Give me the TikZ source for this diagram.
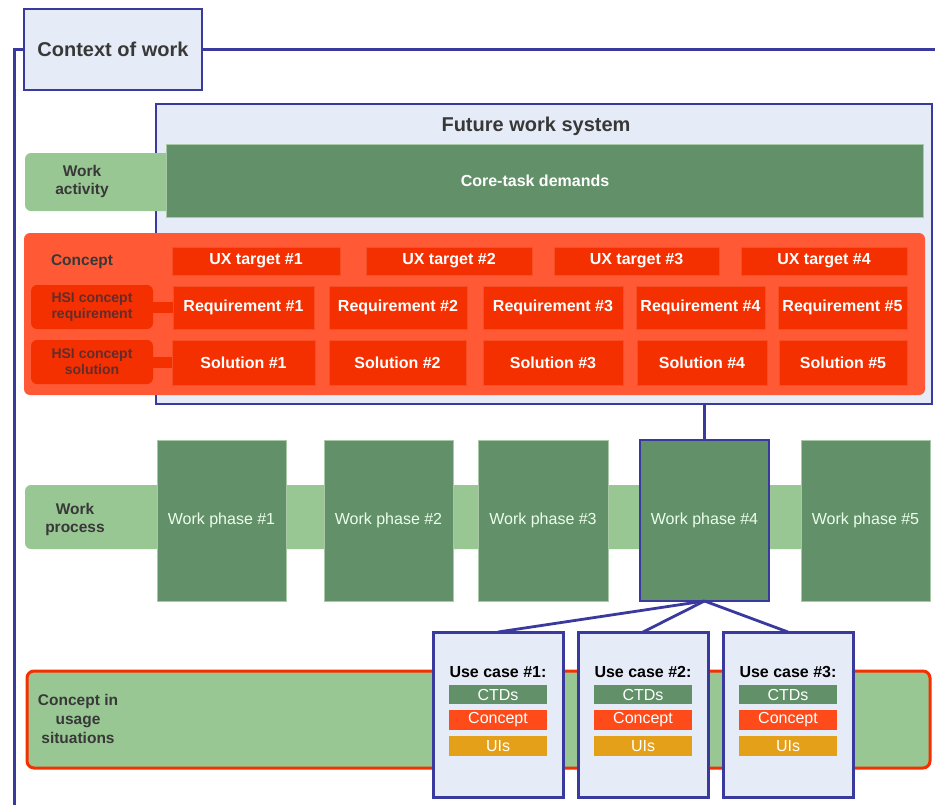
\documentclass[tikz,border=0pt]{standalone}
\usepackage{fontspec}
\setmainfont{Liberation Sans}
\definecolor{frameblue}{HTML}{3A3A9E}
\definecolor{paleblue}{HTML}{E6ECF7}
\definecolor{darkgreen}{HTML}{629069}
\definecolor{greenedge}{HTML}{A9C9A6}
\definecolor{lightgreen}{HTML}{99C793}
\definecolor{conceptorange}{HTML}{FF5A35}
\definecolor{redbox}{HTML}{F53000}
\definecolor{ucconcept}{HTML}{FF4A1A}
\definecolor{uiorange}{HTML}{E5A01A}
\definecolor{darktext}{HTML}{383838}
\newcommand\bx[7]{\node[#1, minimum width={(#5-#3)*1pt}, minimum height={(#6-#4)*1pt}] (#2) at ({(#3+#5)/2},{(#4+#6)/2}) {#7};}
\begin{document}
\begin{tikzpicture}[x=1pt,y=-1pt,
  every node/.style={inner sep=0pt, outer sep=0pt},
  ctxbox/.style={fill=paleblue, draw=frameblue, line width=2pt, font=\bfseries\fontsize{20}{22}\selectfont, text=darktext},
  sysbox/.style={fill=paleblue, draw=frameblue, line width=1.5pt},
  greenbar/.style={fill=darkgreen, draw=greenedge, line width=0.6pt, text=white, font=\bfseries\fontsize{16}{18}\selectfont},
  phasebox/.style={fill=darkgreen, draw=greenedge, line width=0.6pt, text=white!92!green, font=\fontsize{16}{18}\selectfont},
  phasesel/.style={fill=darkgreen, draw=frameblue, line width=2.8pt, text=white!92!green, font=\fontsize{16}{18}\selectfont},
  labelband/.style={fill=lightgreen, rounded corners=6pt},
  lbltext/.style={text=darktext, font=\bfseries\fontsize{15.5}{18}\selectfont, align=center},
  orangebox/.style={fill=conceptorange, rounded corners=6pt},
  redcell/.style={fill=redbox, draw=redbox!85!white, line width=0.5pt, text=white, font=\bfseries\fontsize{16}{18}\selectfont},
  hsilabel/.style={fill=redbox, rounded corners=6pt, text=darktext!80!red, font=\bfseries\fontsize{14}{16}\selectfont, align=center},
  usagebox/.style={fill=lightgreen, draw=redbox, line width=3pt, rounded corners=7pt},
  ucbox/.style={fill=paleblue, draw=frameblue, line width=3pt},
  uctitle/.style={text=black, font=\bfseries\fontsize{16}{18}\selectfont},
  ucbar/.style={text=white, font=\fontsize{16}{18}\selectfont},
  conn/.style={draw=frameblue, line width=2.8pt}
]
\useasboundingbox (0,0) rectangle (935,804);

% context frame
\bx{ctxbox}{ctx}{24}{9}{202}{90}{Context of work}
\coordinate (frameR) at (935,49.5);
\coordinate (frameB) at (14,806);
\draw[conn, line width=3pt] (ctx.east) -- (frameR);
\draw[conn, line width=3pt] (ctx.west) -| (frameB);

% future work system
\bx{sysbox}{fws}{156}{104}{932}{404}{}
\node[font=\bfseries\fontsize{20}{22}\selectfont, text=darktext] (fwstitle) at (536,126) {Future work system};

% work activity
\bx{labelband}{walbl}{25}{153}{172}{211}{}
\node[lbltext] (watext) at (82,181) {Work\\activity};
\bx{greenbar}{ctd}{166}{144}{923}{217}{}
\node[text=white, font=\bfseries\fontsize{16}{18}\selectfont] (ctdtext) at (535,181) {Core-task demands};

% concept block
\bx{orangebox}{concept}{24}{233}{925}{395}{}
\node[lbltext, text=darktext] (concepttext) at (82,262) {Concept};
\bx{redcell}{ux1}{172}{247}{340}{275}{UX target \#1}
\bx{redcell}{ux2}{366}{247}{532}{275}{UX target \#2}
\bx{redcell}{ux3}{554}{247}{719}{275}{UX target \#3}
\bx{redcell}{ux4}{741}{247}{907}{275}{UX target \#4}

\bx{redcell}{r1}{173}{286}{314}{329}{Requirement \#1}
\bx{redcell}{r2}{329}{286}{467}{329}{Requirement \#2}
\bx{redcell}{r3}{483}{286}{623}{329}{Requirement \#3}
\bx{redcell}{r4}{636}{286}{765}{329}{Requirement \#4}
\bx{redcell}{r5}{778}{286}{907}{329}{Requirement \#5}

\bx{redcell}{s1}{172}{340}{315}{385}{Solution \#1}
\bx{redcell}{s2}{329}{340}{466}{385}{Solution \#2}
\bx{redcell}{s3}{483}{340}{623}{385}{Solution \#3}
\bx{redcell}{s4}{637}{340}{767}{385}{Solution \#4}
\bx{redcell}{s5}{779}{340}{907}{385}{Solution \#5}

\bx{hsilabel}{hsir}{31}{285}{153}{329}{HSI concept\\requirement}
\bx{hsilabel}{hsis}{31}{340}{153}{384}{HSI concept\\solution}
\fill[redbox] ([yshift=5pt]hsir.east) rectangle ([yshift=-5pt]r1.west);
\fill[redbox] ([yshift=5.5pt]hsis.east) rectangle ([yshift=-5.5pt]s1.west);

% work process
\bx{labelband}{wpband}{25}{485}{930}{549}{}
\node[lbltext] (wptext) at (75,519) {Work\\process};
\bx{phasebox}{p1}{157}{440}{286}{601}{Work phase \#1}
\bx{phasebox}{p2}{324}{440}{453}{601}{Work phase \#2}
\bx{phasebox}{p3}{478}{440}{608}{601}{Work phase \#3}
\bx{phasesel}{p4}{640}{440}{769}{601}{Work phase \#4}
\bx{phasebox}{p5}{801}{440}{930}{601}{Work phase \#5}

\draw[conn] (p4.north |- fws.south) -- (p4.north);

% usage situations
\bx{usagebox}{usage}{27}{671}{930}{768}{}
\node[lbltext, font=\bfseries\fontsize{15.5}{19}\selectfont] (usagetext) at (78,719) {Concept in\\usage\\situations};

\bx{ucbox}{uc1}{433}{632}{563}{797}{}
\bx{ucbox}{uc2}{578}{632}{708}{797}{}
\bx{ucbox}{uc3}{723}{632}{853}{797}{}

\draw[conn] (p4.south) -- (uc1.north);
\draw[conn] (p4.south) -- (uc2.north);
\draw[conn] (p4.south) -- (uc3.north);

\node[uctitle] (uc1t) at (498,672) {Use case \#1:};
\bx{ucbar, fill=darkgreen}{uc1a}{449}{685}{547}{704}{CTDs}
\bx{ucbar, fill=ucconcept}{uc1b}{449}{710}{547}{730}{Concept}
\bx{ucbar, fill=uiorange}{uc1c}{449}{736}{547}{756}{UIs}

\node[uctitle] (uc2t) at (643,672) {Use case \#2:};
\bx{ucbar, fill=darkgreen}{uc2a}{594}{685}{692}{704}{CTDs}
\bx{ucbar, fill=ucconcept}{uc2b}{594}{710}{692}{730}{Concept}
\bx{ucbar, fill=uiorange}{uc2c}{594}{736}{692}{756}{UIs}

\node[uctitle] (uc3t) at (788,672) {Use case \#3:};
\bx{ucbar, fill=darkgreen}{uc3a}{739}{685}{837}{704}{CTDs}
\bx{ucbar, fill=ucconcept}{uc3b}{739}{710}{837}{730}{Concept}
\bx{ucbar, fill=uiorange}{uc3c}{739}{736}{837}{756}{UIs}
\end{tikzpicture}
\end{document}
